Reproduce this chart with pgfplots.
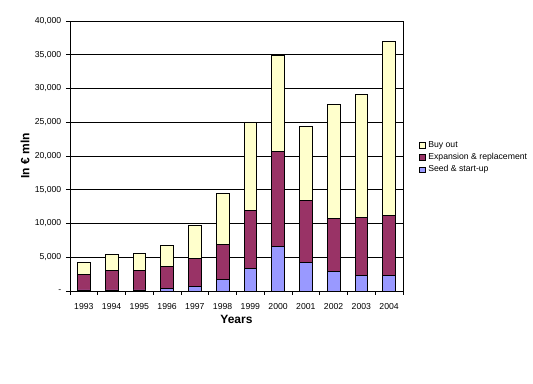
\documentclass[border=0pt]{standalone}
\usepackage{pgfplots}
\pgfplotsset{compat=1.18}
\usepackage{fontspec}
\setmainfont{Liberation Sans}
\definecolor{buy}{HTML}{FFFFCC}
\definecolor{exp}{HTML}{993366}
\definecolor{seed}{HTML}{9999FF}
\begin{document}
\begin{tikzpicture}[x=0.75pt,y=0.75pt]
\useasboundingbox (0,0) rectangle (533,384);
\fill[white] (0,0) rectangle (533,384);
\begin{axis}[
  at={(70pt*0.75,93pt*0.75)}, anchor=south west,
  scale only axis, width=333*0.75pt, height=270*0.75pt,
  ybar stacked, bar width=12.7*0.75pt,
  xmin=-0.5, xmax=11.5, ymin=0, ymax=40000,
  scaled y ticks=false,
  xtick={0,...,11},
  xticklabels={1993,1994,1995,1996,1997,1998,1999,2000,2001,2002,2003,2004},
  minor xtick={-0.5,0.5,...,11.5},
  ytick={0,5000,...,40000},
  yticklabels={-,{5,000},{10,000},{15,000},{20,000},{25,000},{30,000},{35,000},{40,000}},
  major x tick style={draw=none},
  tick align=outside, tick pos=left,
  major tick length=3pt, minor tick length=3pt,
  ymajorgrids, grid style={black, line width=0.5pt},
  axis line style={black, line width=0.5pt},
  tick style={black, line width=0.5pt},
  ticklabel style={font=\fontsize{6.5}{7}\selectfont},
  xticklabel style={yshift=-3pt},
  xlabel={\textbf{Years}}, ylabel={\textbf{In € mln}},
  label style={font=\fontsize{9}{10}\selectfont},
  xlabel style={at={(0.5,-0.105)}, anchor=center},
  ylabel style={at={(-0.135,0.5)}, anchor=center},
  reverse legend,
  legend cell align=left,
  legend style={at={(1.036,0.575)}, anchor=north west, draw=none, fill=none,
    font=\fontsize{6.5}{8}\selectfont, row sep=-1pt},
  legend image code/.code={\draw[#1, draw=black, line width=0.4pt] (0pt,-2.2pt) rectangle (4.4pt,2.2pt);},
  every axis plot/.append style={draw=black, line width=0.5pt},
]
\addplot[fill=seed] coordinates {(0,150) (1,150) (2,150) (3,400) (4,700) (5,1680) (6,3300) (7,6570) (8,4200) (9,2860) (10,2270) (11,2270)};
\addplot[fill=exp] coordinates {(0,2270) (1,2850) (2,2850) (3,3200) (4,4100) (5,5280) (6,8600) (7,14070) (8,9180) (9,7860) (10,8590) (11,8890)};
\addplot[fill=buy] coordinates {(0,1780) (1,2380) (2,2530) (3,3120) (4,4880) (5,7460) (6,13140) (7,14260) (8,10970) (9,16880) (10,18230) (11,25780)};
\legend{Seed \& start-up, Expansion \& replacement, Buy out}
\end{axis}
\end{tikzpicture}
\end{document}
